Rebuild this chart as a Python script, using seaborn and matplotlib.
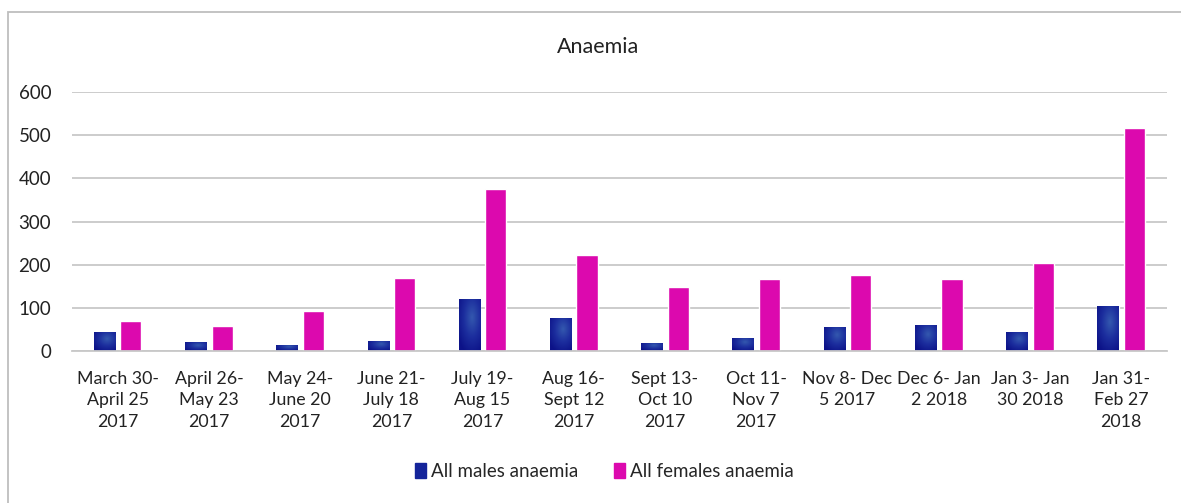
import matplotlib.pyplot as plt
import matplotlib.patches as mpatches
from matplotlib.colors import LinearSegmentedColormap
import numpy as np
import seaborn as sns
import pandas as pd

periods = [
    "March 30-\nApril 25\n2017", "April 26-\nMay 23\n2017", "May 24-\nJune 20\n2017",
    "June 21-\nJuly 18\n2017", "July 19-\nAug 15\n2017", "Aug 16-\nSept 12\n2017",
    "Sept 13-\nOct 10\n2017", "Oct 11-\nNov 7\n2017", "Nov 8- Dec\n5 2017",
    "Dec 6- Jan\n2 2018", "Jan 3- Jan\n30 2018", "Jan 31-\nFeb 27\n2018",
]
males = [44, 20, 14, 24, 120, 77, 19, 31, 56, 60, 44, 104]
females = [70, 58, 93, 170, 375, 222, 148, 167, 176, 167, 204, 516]
series = ["All males anaemia", "All females anaemia"]
colors = ["#14249A", "#DC09AE"]

df = pd.DataFrame({
    "Period": periods * 2,
    "Count": males + females,
    "Series": [series[0]] * len(periods) + [series[1]] * len(periods),
})

sns.set_style("white")
plt.rcParams["font.family"] = ["Lato", "DejaVu Sans"]

fig = plt.figure(figsize=(11.81, 5.03), dpi=100)
ax = fig.add_axes([0.061, 0.302, 0.927, 0.515])

sns.barplot(data=df, x="Period", y="Count", hue="Series", palette=colors,
            width=0.58, gap=0.2, saturation=1, ax=ax, legend=False)

# soft shading on the male bars (lighter towards the upper middle, navy rim)
shade = LinearSegmentedColormap.from_list("shade", ["#3357AE", "#1C2E9E", "#0C1288"])
gy, gx = np.mgrid[-1:1:60j, -1:1:30j]
rad = np.clip(np.sqrt((gx - 0.2) ** 2 + (gy - 0.3) ** 2) / 1.5, 0, 1)
for bar in list(ax.patches)[:len(periods)]:
    x0, y0 = bar.get_x(), bar.get_y()
    w, h = bar.get_width(), bar.get_height()
    im = ax.imshow(rad, cmap=shade, extent=(x0, x0 + w, y0, y0 + h),
                   aspect="auto", origin="lower", zorder=bar.get_zorder() + 0.1,
                   interpolation="bilinear")
    im.set_clip_path(bar)

ax.set_ylim(0, 600)
ax.set_yticks(range(0, 601, 100))
ax.set_xlim(-0.5, len(periods) - 0.5)
ax.yaxis.grid(True, color="#C8C8C8", linewidth=1.3)
ax.set_axisbelow(True)
for s in ["top", "right", "left"]:
    ax.spines[s].set_visible(False)
ax.spines["bottom"].set_color("#C8C8C8")
ax.spines["bottom"].set_linewidth(1.3)
ax.tick_params(axis="y", length=0, labelsize=13.5, colors="#222222", pad=15)
ax.tick_params(axis="x", length=0, labelsize=12.8, colors="#222222", pad=14)
for lab in ax.get_xticklabels():
    lab.set_linespacing(1.45)
ax.set_xlabel("")
ax.set_ylabel("")

fig.text(0.506, 0.907, "Anaemia", ha="center", va="center", fontsize=15.5, color="#222222")

handles = [mpatches.Patch(color=c, label=l) for c, l in zip(colors, series)]
fig.legend(handles=handles, loc="center", bbox_to_anchor=(0.512, 0.062), ncol=2,
           frameon=False, fontsize=13.5, handlelength=0.55, handleheight=0.85,
           handletextpad=0.3, columnspacing=1.9)

# outer chart border (left and top edges)
fig.add_artist(mpatches.Rectangle((0.007, -0.05), 1.2, 1.026, transform=fig.transFigure,
                                  fill=False, edgecolor="#BEBEBE", linewidth=1.3))

fig.savefig("out.png", dpi=100)
